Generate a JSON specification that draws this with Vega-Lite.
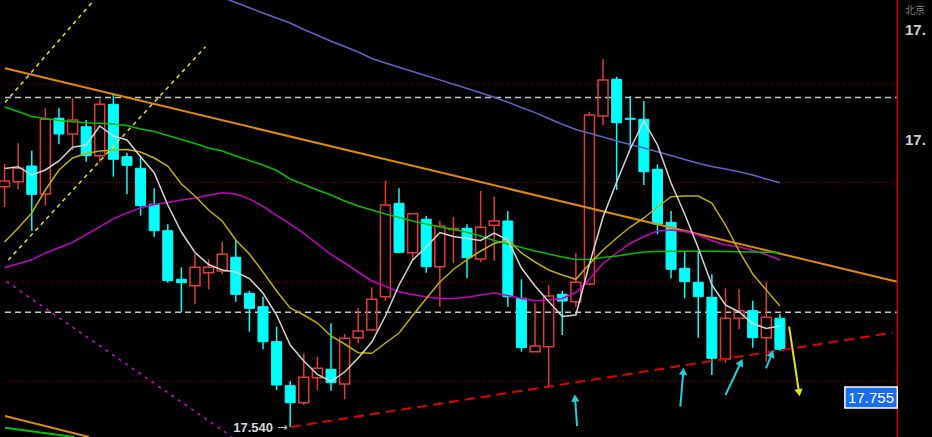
{
  "$schema": "https://vega.github.io/schema/vega-lite/v6.json",
  "width": 932,
  "height": 437,
  "autosize": "none",
  "padding": 0,
  "background": "#000000",
  "config": {"view": {"stroke": null}},
  "datasets": {
    "candles": [
      {"i":-1,"o":17.7803,"h":17.803,"l":17.76,"c":17.786,"d":"up"},
      {"i":0,"o":17.7853,"h":17.8237,"l":17.7777,"c":17.7987,"d":"up"},
      {"i":1,"o":17.801,"h":17.8163,"l":17.7363,"c":17.7727,"d":"down"},
      {"i":2,"o":17.773,"h":17.8587,"l":17.7613,"c":17.8477,"d":"up"},
      {"i":3,"o":17.8487,"h":17.8587,"l":17.8227,"c":17.833,"d":"down"},
      {"i":4,"o":17.833,"h":17.8687,"l":17.817,"c":17.847,"d":"up"},
      {"i":5,"o":17.8403,"h":17.847,"l":17.8053,"c":17.8113,"d":"down"},
      {"i":6,"o":17.8113,"h":17.8677,"l":17.8053,"c":17.8627,"d":"up"},
      {"i":7,"o":17.8627,"h":17.872,"l":17.7903,"c":17.8077,"d":"down"},
      {"i":8,"o":17.8103,"h":17.8143,"l":17.7727,"c":17.8017,"d":"down"},
      {"i":9,"o":17.7987,"h":17.811,"l":17.7513,"c":17.7613,"d":"down"},
      {"i":10,"o":17.7627,"h":17.7787,"l":17.7303,"c":17.7363,"d":"down"},
      {"i":11,"o":17.7363,"h":17.7427,"l":17.6843,"c":17.6863,"d":"down"},
      {"i":12,"o":17.6877,"h":17.6997,"l":17.6547,"c":17.6843,"d":"down"},
      {"i":13,"o":17.6813,"h":17.7127,"l":17.6627,"c":17.6997,"d":"up"},
      {"i":14,"o":17.6943,"h":17.7077,"l":17.6777,"c":17.6997,"d":"up"},
      {"i":15,"o":17.696,"h":17.7253,"l":17.6927,"c":17.7127,"d":"up"},
      {"i":16,"o":17.7097,"h":17.727,"l":17.6653,"c":17.6727,"d":"down"},
      {"i":17,"o":17.6737,"h":17.6763,"l":17.6353,"c":17.6587,"d":"down"},
      {"i":18,"o":17.6603,"h":17.6703,"l":17.6177,"c":17.6253,"d":"down"},
      {"i":19,"o":17.6253,"h":17.6403,"l":17.577,"c":17.582,"d":"down"},
      {"i":20,"o":17.5813,"h":17.586,"l":17.54,"c":17.5643,"d":"down"},
      {"i":21,"o":17.5643,"h":17.6137,"l":17.562,"c":17.5897,"d":"up"},
      {"i":22,"o":17.5893,"h":17.6103,"l":17.577,"c":17.5987,"d":"up"},
      {"i":23,"o":17.5977,"h":17.6437,"l":17.5763,"c":17.5843,"d":"down"},
      {"i":24,"o":17.583,"h":17.633,"l":17.5677,"c":17.6287,"d":"up"},
      {"i":25,"o":17.6293,"h":17.6587,"l":17.6237,"c":17.636,"d":"up"},
      {"i":26,"o":17.637,"h":17.6797,"l":17.6363,"c":17.6677,"d":"up"},
      {"i":27,"o":17.6703,"h":17.7863,"l":17.6663,"c":17.762,"d":"up"},
      {"i":28,"o":17.7637,"h":17.7787,"l":17.7137,"c":17.7147,"d":"down"},
      {"i":29,"o":17.7143,"h":17.7533,"l":17.707,"c":17.7533,"d":"up"},
      {"i":30,"o":17.7477,"h":17.7513,"l":17.6943,"c":17.7003,"d":"down"},
      {"i":31,"o":17.7003,"h":17.7463,"l":17.6603,"c":17.741,"d":"up"},
      {"i":32,"o":17.7375,"h":17.7503,"l":17.7037,"c":17.7385,"d":"up"},
      {"i":33,"o":17.7387,"h":17.7427,"l":17.6887,"c":17.7093,"d":"down"},
      {"i":34,"o":17.708,"h":17.7763,"l":17.7047,"c":17.7397,"d":"up"},
      {"i":35,"o":17.7417,"h":17.7703,"l":17.7063,"c":17.746,"d":"up"},
      {"i":36,"o":17.746,"h":17.756,"l":17.6603,"c":17.6703,"d":"down"},
      {"i":37,"o":17.6687,"h":17.6877,"l":17.6153,"c":17.6193,"d":"down"},
      {"i":38,"o":17.6153,"h":17.6637,"l":17.6153,"c":17.621,"d":"up"},
      {"i":39,"o":17.6203,"h":17.682,"l":17.5793,"c":17.671,"d":"up"},
      {"i":40,"o":17.6727,"h":17.676,"l":17.632,"c":17.666,"d":"down"},
      {"i":41,"o":17.6653,"h":17.7137,"l":17.6603,"c":17.6847,"d":"up"},
      {"i":42,"o":17.683,"h":17.8553,"l":17.682,"c":17.852,"d":"up"},
      {"i":43,"o":17.851,"h":17.9077,"l":17.842,"c":17.887,"d":"up"},
      {"i":44,"o":17.8877,"h":17.8903,"l":17.777,"c":17.8443,"d":"down"},
      {"i":45,"o":17.8487,"h":17.871,"l":17.8187,"c":17.8477,"d":"down"},
      {"i":46,"o":17.8477,"h":17.866,"l":17.782,"c":17.7953,"d":"down"},
      {"i":47,"o":17.7977,"h":17.8027,"l":17.7327,"c":17.743,"d":"down"},
      {"i":48,"o":17.7447,"h":17.756,"l":17.6887,"c":17.6977,"d":"down"},
      {"i":49,"o":17.6987,"h":17.7153,"l":17.6687,"c":17.6853,"d":"down"},
      {"i":50,"o":17.6847,"h":17.716,"l":17.6293,"c":17.6703,"d":"down"},
      {"i":51,"o":17.6697,"h":17.6927,"l":17.592,"c":17.6087,"d":"down"},
      {"i":52,"o":17.608,"h":17.6787,"l":17.6043,"c":17.6487,"d":"up"},
      {"i":53,"o":17.6487,"h":17.6777,"l":17.6377,"c":17.6563,"d":"up"},
      {"i":54,"o":17.6563,"h":17.6663,"l":17.6193,"c":17.6293,"d":"down"},
      {"i":55,"o":17.6293,"h":17.6847,"l":17.6053,"c":17.6497,"d":"up"},
      {"i":56,"o":17.6487,"h":17.653,"l":17.6163,"c":17.6177,"d":"down"}
    ],
    "ma": [
      {"i":-1,"ma5":17.7985,"ma10":17.725,"ma20":17.86,"ma30":17.6995,"ma60":null},
      {"i":0,"ma5":17.8003,"ma10":17.739,"ma20":17.8555,"ma30":17.7033,"ma60":null},
      {"i":1,"ma5":17.792,"ma10":17.754,"ma20":17.8505,"ma30":17.7072,"ma60":null},
      {"i":2,"ma5":17.797,"ma10":17.777,"ma20":17.8485,"ma30":17.7139,"ma60":null},
      {"i":3,"ma5":17.806,"ma10":17.797,"ma20":17.8465,"ma30":17.7192,"ma60":null},
      {"i":4,"ma5":17.8197,"ma10":17.809,"ma20":17.8453,"ma30":17.7246,"ma60":null},
      {"i":5,"ma5":17.822,"ma10":17.8135,"ma20":17.8443,"ma30":17.7324,"ma60":null},
      {"i":6,"ma5":17.841,"ma10":17.816,"ma20":17.8437,"ma30":17.7401,"ma60":null},
      {"i":7,"ma5":17.831,"ma10":17.817,"ma20":17.843,"ma30":17.7482,"ma60":null},
      {"i":8,"ma5":17.827,"ma10":17.8175,"ma20":17.8415,"ma30":17.7541,"ma60":null},
      {"i":9,"ma5":17.8103,"ma10":17.815,"ma20":17.838,"ma30":17.759,"ma60":null},
      {"i":10,"ma5":17.7943,"ma10":17.809,"ma20":17.8355,"ma30":17.7624,"ma60":null},
      {"i":11,"ma5":17.762,"ma10":17.801,"ma20":17.8315,"ma30":17.7645,"ma60":null},
      {"i":12,"ma5":17.735,"ma10":17.783,"ma20":17.8275,"ma30":17.767,"ma60":null},
      {"i":13,"ma5":17.7145,"ma10":17.771,"ma20":17.8235,"ma30":17.7691,"ma60":17.98},
      {"i":14,"ma5":17.7025,"ma10":17.757,"ma20":17.819,"ma30":17.7718,"ma60":17.9749},
      {"i":15,"ma5":17.697,"ma10":17.746,"ma20":17.816,"ma30":17.7742,"ma60":17.9697},
      {"i":16,"ma5":17.695,"ma10":17.727,"ma20":17.811,"ma30":17.7729,"ma60":17.9645},
      {"i":17,"ma5":17.6885,"ma10":17.713,"ma20":17.8065,"ma30":17.7681,"ma60":17.9593},
      {"i":18,"ma5":17.674,"ma10":17.695,"ma20":17.802,"ma30":17.7607,"ma60":17.954},
      {"i":19,"ma5":17.652,"ma10":17.676,"ma20":17.7965,"ma30":17.7516,"ma60":17.949},
      {"i":20,"ma5":17.622,"ma10":17.659,"ma20":17.788,"ma30":17.7428,"ma60":17.944},
      {"i":21,"ma5":17.606,"ma10":17.652,"ma20":17.7825,"ma30":17.7337,"ma60":17.9375},
      {"i":22,"ma5":17.5925,"ma10":17.644,"ma20":17.777,"ma30":17.723,"ma60":17.9318},
      {"i":23,"ma5":17.5855,"ma10":17.631,"ma20":17.772,"ma30":17.7125,"ma60":17.9257},
      {"i":24,"ma5":17.595,"ma10":17.623,"ma20":17.766,"ma30":17.704,"ma60":17.9205},
      {"i":25,"ma5":17.609,"ma10":17.6143,"ma20":17.761,"ma30":17.695,"ma60":17.915},
      {"i":26,"ma5":17.625,"ma10":17.6137,"ma20":17.757,"ma30":17.686,"ma60":17.9085},
      {"i":27,"ma5":17.651,"ma10":17.624,"ma20":17.753,"ma30":17.6806,"ma60":17.904},
      {"i":28,"ma5":17.682,"ma10":17.634,"ma20":17.7495,"ma30":17.6753,"ma60":17.8997},
      {"i":29,"ma5":17.707,"ma10":17.6515,"ma20":17.746,"ma30":17.6726,"ma60":17.8955},
      {"i":30,"ma5":17.72,"ma10":17.6685,"ma20":17.743,"ma30":17.6699,"ma60":17.8912},
      {"i":31,"ma5":17.7345,"ma10":17.685,"ma20":17.74,"ma30":17.6684,"ma60":17.8871},
      {"i":32,"ma5":17.7305,"ma10":17.6975,"ma20":17.7375,"ma30":17.6684,"ma60":17.8827},
      {"i":33,"ma5":17.7285,"ma10":17.7073,"ma20":17.7347,"ma30":17.6698,"ma60":17.8785},
      {"i":34,"ma5":17.7265,"ma10":17.716,"ma20":17.731,"ma30":17.672,"ma60":17.8742},
      {"i":35,"ma5":17.734,"ma10":17.7235,"ma20":17.7265,"ma30":17.674,"ma60":17.8698},
      {"i":36,"ma5":17.727,"ma10":17.727,"ma20":17.723,"ma30":17.6715,"ma60":17.8648},
      {"i":37,"ma5":17.699,"ma10":17.714,"ma20":17.7195,"ma30":17.6685,"ma60":17.8595},
      {"i":38,"ma5":17.681,"ma10":17.705,"ma20":17.716,"ma30":17.6662,"ma60":17.8544},
      {"i":39,"ma5":17.6655,"ma10":17.697,"ma20":17.713,"ma30":17.667,"ma60":17.8485},
      {"i":40,"ma5":17.6505,"ma10":17.692,"ma20":17.71,"ma30":17.6685,"ma60":17.8427},
      {"i":41,"ma5":17.652,"ma10":17.6877,"ma20":17.7075,"ma30":17.6745,"ma60":17.8375},
      {"i":42,"ma5":17.703,"ma10":17.703,"ma20":17.7075,"ma30":17.688,"ma60":17.8337},
      {"i":43,"ma5":17.75,"ma10":17.717,"ma20":17.7095,"ma30":17.7035,"ma60":17.83},
      {"i":44,"ma5":17.785,"ma10":17.729,"ma20":17.711,"ma30":17.714,"ma60":17.826},
      {"i":45,"ma5":17.818,"ma10":17.74,"ma20":17.713,"ma30":17.7235,"ma60":17.8225},
      {"i":46,"ma5":17.846,"ma10":17.749,"ma20":17.715,"ma30":17.7305,"ma60":17.819},
      {"i":47,"ma5":17.822,"ma10":17.76,"ma20":17.7155,"ma30":17.736,"ma60":17.8153},
      {"i":48,"ma5":17.784,"ma10":17.7703,"ma20":17.7157,"ma30":17.737,"ma60":17.8115},
      {"i":49,"ma5":17.753,"ma10":17.771,"ma20":17.7157,"ma30":17.7355,"ma60":17.8075},
      {"i":50,"ma5":17.719,"ma10":17.771,"ma20":17.7158,"ma30":17.732,"ma60":17.8037},
      {"i":51,"ma5":17.682,"ma10":17.764,"ma20":17.7157,"ma30":17.7265,"ma60":17.8005},
      {"i":52,"ma5":17.662,"ma10":17.742,"ma20":17.7155,"ma30":17.722,"ma60":17.798},
      {"i":53,"ma5":17.655,"ma10":17.716,"ma20":17.7152,"ma30":17.72,"ma60":17.7952},
      {"i":54,"ma5":17.6435,"ma10":17.693,"ma20":17.715,"ma30":17.7165,"ma60":17.792},
      {"i":55,"ma5":17.6385,"ma10":17.677,"ma20":17.7147,"ma30":17.7125,"ma60":17.788},
      {"i":56,"ma5":17.641,"ma10":17.661,"ma20":17.7145,"ma30":17.707,"ma60":17.7843}
    ],
    "hlines": [
      {"kind":"grid","p":17.883,"i1":-0.967,"i2":64.63},
      {"kind":"grid","p":17.7845,"i1":-0.967,"i2":64.63},
      {"kind":"grid","p":17.685,"i1":-0.967,"i2":64.63},
      {"kind":"grid","p":17.586,"i1":-0.967,"i2":64.63},
      {"kind":"level","p":17.8695,"i1":-0.967,"i2":64.63},
      {"kind":"level","p":17.6547,"i1":-0.967,"i2":64.63}
    ],
    "trend": [
      {"id":"orange1","style":"orange","i":-0.967,"p":17.8987},
      {"id":"orange1","style":"orange","i":64.63,"p":17.6853},
      {"id":"orange2","style":"orange","i":-0.967,"p":17.551},
      {"id":"orange2","style":"orange","i":5.214,"p":17.53},
      {"id":"green2","style":"green","i":-0.967,"p":17.5393},
      {"id":"green2","style":"green","i":4.124,"p":17.53},
      {"id":"support","style":"red","i":20.05,"p":17.54},
      {"id":"support","style":"red","i":64.27,"p":17.6343},
      {"id":"chanA","style":"yellow","i":-0.967,"p":17.8644},
      {"id":"chanA","style":"yellow","i":5.578,"p":17.967},
      {"id":"chanB","style":"yellow","i":-0.727,"p":17.707},
      {"id":"chanB","style":"yellow","i":13.775,"p":17.9203},
      {"id":"mag","style":"magenta","i":-0.844,"p":17.6853},
      {"id":"mag","style":"magenta","i":15.73,"p":17.53}
    ],
    "arrows": [
      {"id":"c1","col":"cyan","i":41.09,"p":17.541},
      {"id":"c1","col":"cyan","i":40.94,"p":17.569},
      {"id":"c2","col":"cyan","i":48.68,"p":17.5603},
      {"id":"c2","col":"cyan","i":48.9,"p":17.5957},
      {"id":"c3","col":"cyan","i":52.0,"p":17.572},
      {"id":"c3","col":"cyan","i":53.14,"p":17.6047},
      {"id":"c4","col":"cyan","i":54.98,"p":17.5987},
      {"id":"c4","col":"cyan","i":55.41,"p":17.6133},
      {"id":"y1","col":"yellow","i":56.68,"p":17.6403},
      {"id":"y1","col":"yellow","i":57.41,"p":17.5743}
    ],
    "heads": [
      {"id":"c1","col":"cyan","i":40.94,"p":17.569,"deg":356},
      {"id":"c2","col":"cyan","i":48.9,"p":17.5957,"deg":5},
      {"id":"c3","col":"cyan","i":53.14,"p":17.6047,"deg":26},
      {"id":"c4","col":"cyan","i":55.41,"p":17.6133,"deg":22},
      {"id":"y1","col":"yellow","i":57.41,"p":17.5743,"deg":171}
    ]
  },
  "layer": [
    {
      "data": {"name": "hlines"},
      "transform": [{"filter": "datum.kind == 'grid'"}],
      "mark": {"type": "rule", "color": "#9a0000", "strokeWidth": 1, "strokeDash": [1, 2]},
      "encoding": {
        "x": {"field": "i1", "type": "quantitative", "scale": {"domain": [-0.967, 66.815], "nice": false, "zero": false}, "axis": null},
        "x2": {"field": "i2"},
        "y": {"field": "p", "type": "quantitative", "scale": {"domain": [17.53, 17.967], "nice": false, "zero": false}, "axis": null}
      }
    },
    {
      "data": {"name": "hlines"},
      "transform": [{"filter": "datum.kind == 'level'"}],
      "mark": {"type": "rule", "color": "#c8c8c8", "strokeWidth": 1.5, "strokeDash": [6, 4]},
      "encoding": {
        "x": {"field": "i1", "type": "quantitative", "scale": {"domain": [-0.967, 66.815], "nice": false, "zero": false}, "axis": null},
        "x2": {"field": "i2"},
        "y": {"field": "p", "type": "quantitative", "scale": {"domain": [17.53, 17.967], "nice": false, "zero": false}, "axis": null}
      }
    },
    {
      "data": {"name": "candles"},
      "transform": [{"filter": "datum.d == 'down'"}],
      "mark": {"type": "rule", "color": "#00ffff", "strokeWidth": 1.5},
      "encoding": {
        "x": {"field": "i", "type": "quantitative", "scale": {"domain": [-0.967, 66.815], "nice": false, "zero": false}, "axis": null},
        "y": {"field": "l", "type": "quantitative", "scale": {"domain": [17.53, 17.967], "nice": false, "zero": false}, "axis": null},
        "y2": {"field": "h"}
      }
    },
    {
      "data": {"name": "candles"},
      "transform": [{"filter": "datum.d == 'up'"}],
      "mark": {"type": "rule", "color": "#e03a3a", "strokeWidth": 1.5},
      "encoding": {
        "x": {"field": "i", "type": "quantitative", "scale": {"domain": [-0.967, 66.815], "nice": false, "zero": false}, "axis": null},
        "y": {"field": "c", "type": "quantitative", "scale": {"domain": [17.53, 17.967], "nice": false, "zero": false}, "axis": null},
        "y2": {"field": "h"}
      }
    },
    {
      "data": {"name": "candles"},
      "transform": [{"filter": "datum.d == 'up'"}],
      "mark": {"type": "rule", "color": "#e03a3a", "strokeWidth": 1.5},
      "encoding": {
        "x": {"field": "i", "type": "quantitative", "scale": {"domain": [-0.967, 66.815], "nice": false, "zero": false}, "axis": null},
        "y": {"field": "l", "type": "quantitative", "scale": {"domain": [17.53, 17.967], "nice": false, "zero": false}, "axis": null},
        "y2": {"field": "o"}
      }
    },
    {
      "data": {"name": "candles"},
      "transform": [{"filter": "datum.d == 'down'"}],
      "mark": {"type": "bar", "orient": "vertical", "width": 10, "fill": "#00ffff", "stroke": "#00ffff", "strokeWidth": 1},
      "encoding": {
        "x": {"field": "i", "type": "quantitative", "scale": {"domain": [-0.967, 66.815], "nice": false, "zero": false}, "axis": null},
        "y": {"field": "o", "type": "quantitative", "scale": {"domain": [17.53, 17.967], "nice": false, "zero": false}, "axis": null},
        "y2": {"field": "c"}
      }
    },
    {
      "data": {"name": "candles"},
      "transform": [{"filter": "datum.d == 'up'"}],
      "mark": {"type": "bar", "orient": "vertical", "width": 10, "fill": "#000000", "fillOpacity": 0, "stroke": "#e03a3a", "strokeWidth": 1.5},
      "encoding": {
        "x": {"field": "i", "type": "quantitative", "scale": {"domain": [-0.967, 66.815], "nice": false, "zero": false}, "axis": null},
        "y": {"field": "o", "type": "quantitative", "scale": {"domain": [17.53, 17.967], "nice": false, "zero": false}, "axis": null},
        "y2": {"field": "c"}
      }
    },
    {
      "data": {"name": "trend"},
      "transform": [{"filter": "datum.style == 'orange' || datum.style == 'green'"}],
      "mark": {"type": "line", "strokeWidth": 2, "clip": true},
      "encoding": {
        "x": {"field": "i", "type": "quantitative", "scale": {"domain": [-0.967, 66.815], "nice": false, "zero": false}, "axis": null},
        "y": {"field": "p", "type": "quantitative", "scale": {"domain": [17.53, 17.967], "nice": false, "zero": false}, "axis": null},
        "detail": {"field": "id"},
        "color": {"field": "style", "type": "nominal", "scale": {"domain": ["orange", "green", "red", "yellow", "magenta", "cyan"], "range": ["#e08a00", "#00c000", "#e00000", "#e6e600", "#e000e0", "#20d0d8"]}, "legend": null}
      }
    },
    {
      "data": {"name": "trend"},
      "transform": [{"filter": "datum.style == 'red'"}],
      "mark": {"type": "line", "strokeWidth": 2, "strokeDash": [10, 6], "clip": true},
      "encoding": {
        "x": {"field": "i", "type": "quantitative", "scale": {"domain": [-0.967, 66.815], "nice": false, "zero": false}, "axis": null},
        "y": {"field": "p", "type": "quantitative", "scale": {"domain": [17.53, 17.967], "nice": false, "zero": false}, "axis": null},
        "detail": {"field": "id"},
        "color": {"field": "style", "type": "nominal", "scale": {"domain": ["orange", "green", "red", "yellow", "magenta", "cyan"], "range": ["#e08a00", "#00c000", "#e00000", "#e6e600", "#e000e0", "#20d0d8"]}, "legend": null}
      }
    },
    {
      "data": {"name": "trend"},
      "transform": [{"filter": "datum.style == 'yellow'"}],
      "mark": {"type": "line", "strokeWidth": 1.5, "strokeDash": [4, 4], "clip": true},
      "encoding": {
        "x": {"field": "i", "type": "quantitative", "scale": {"domain": [-0.967, 66.815], "nice": false, "zero": false}, "axis": null},
        "y": {"field": "p", "type": "quantitative", "scale": {"domain": [17.53, 17.967], "nice": false, "zero": false}, "axis": null},
        "detail": {"field": "id"},
        "color": {"field": "style", "type": "nominal", "scale": {"domain": ["orange", "green", "red", "yellow", "magenta", "cyan"], "range": ["#e08a00", "#00c000", "#e00000", "#e6e600", "#e000e0", "#20d0d8"]}, "legend": null}
      }
    },
    {
      "data": {"name": "trend"},
      "transform": [{"filter": "datum.style == 'magenta'"}],
      "mark": {"type": "line", "strokeWidth": 1.5, "strokeDash": [3, 5], "clip": true},
      "encoding": {
        "x": {"field": "i", "type": "quantitative", "scale": {"domain": [-0.967, 66.815], "nice": false, "zero": false}, "axis": null},
        "y": {"field": "p", "type": "quantitative", "scale": {"domain": [17.53, 17.967], "nice": false, "zero": false}, "axis": null},
        "detail": {"field": "id"},
        "color": {"field": "style", "type": "nominal", "scale": {"domain": ["orange", "green", "red", "yellow", "magenta", "cyan"], "range": ["#e08a00", "#00c000", "#e00000", "#e6e600", "#e000e0", "#20d0d8"]}, "legend": null}
      }
    },
    {
      "data": {"name": "ma"},
      "mark": {"type": "line", "color": "#6262c8", "strokeWidth": 1.5, "clip": true},
      "encoding": {
        "x": {"field": "i", "type": "quantitative", "scale": {"domain": [-0.967, 66.815], "nice": false, "zero": false}, "axis": null},
        "y": {"field": "ma60", "type": "quantitative", "scale": {"domain": [17.53, 17.967], "nice": false, "zero": false}, "axis": null}
      }
    },
    {
      "data": {"name": "ma"},
      "mark": {"type": "line", "color": "#c800c8", "strokeWidth": 1.5, "clip": true},
      "encoding": {
        "x": {"field": "i", "type": "quantitative", "scale": {"domain": [-0.967, 66.815], "nice": false, "zero": false}, "axis": null},
        "y": {"field": "ma30", "type": "quantitative", "scale": {"domain": [17.53, 17.967], "nice": false, "zero": false}, "axis": null}
      }
    },
    {
      "data": {"name": "ma"},
      "mark": {"type": "line", "color": "#00c000", "strokeWidth": 1.5, "clip": true},
      "encoding": {
        "x": {"field": "i", "type": "quantitative", "scale": {"domain": [-0.967, 66.815], "nice": false, "zero": false}, "axis": null},
        "y": {"field": "ma20", "type": "quantitative", "scale": {"domain": [17.53, 17.967], "nice": false, "zero": false}, "axis": null}
      }
    },
    {
      "data": {"name": "ma"},
      "mark": {"type": "line", "color": "#bdb000", "strokeWidth": 1.5, "clip": true},
      "encoding": {
        "x": {"field": "i", "type": "quantitative", "scale": {"domain": [-0.967, 66.815], "nice": false, "zero": false}, "axis": null},
        "y": {"field": "ma10", "type": "quantitative", "scale": {"domain": [17.53, 17.967], "nice": false, "zero": false}, "axis": null}
      }
    },
    {
      "data": {"name": "ma"},
      "mark": {"type": "line", "color": "#d4d4d4", "strokeWidth": 1.5, "clip": true},
      "encoding": {
        "x": {"field": "i", "type": "quantitative", "scale": {"domain": [-0.967, 66.815], "nice": false, "zero": false}, "axis": null},
        "y": {"field": "ma5", "type": "quantitative", "scale": {"domain": [17.53, 17.967], "nice": false, "zero": false}, "axis": null}
      }
    },
    {
      "data": {"name": "arrows"},
      "mark": {"type": "line", "strokeWidth": 2},
      "encoding": {
        "x": {"field": "i", "type": "quantitative", "scale": {"domain": [-0.967, 66.815], "nice": false, "zero": false}, "axis": null},
        "y": {"field": "p", "type": "quantitative", "scale": {"domain": [17.53, 17.967], "nice": false, "zero": false}, "axis": null},
        "detail": {"field": "id"},
        "color": {"field": "col", "type": "nominal", "scale": {"domain": ["cyan", "yellow"], "range": ["#20d0d8", "#f0f000"]}, "legend": null}
      }
    },
    {
      "data": {"name": "heads"},
      "mark": {"type": "point", "shape": "triangle-up", "filled": true, "size": 70, "opacity": 1},
      "encoding": {
        "x": {"field": "i", "type": "quantitative", "scale": {"domain": [-0.967, 66.815], "nice": false, "zero": false}, "axis": null},
        "y": {"field": "p", "type": "quantitative", "scale": {"domain": [17.53, 17.967], "nice": false, "zero": false}, "axis": null},
        "angle": {"field": "deg", "type": "quantitative", "scale": null},
        "color": {"field": "col", "type": "nominal", "scale": {"domain": ["cyan", "yellow"], "range": ["#20d0d8", "#f0f000"]}, "legend": null}
      }
    },
    {
      "data": {"values": [{"i": 64.63}]},
      "mark": {"type": "rule", "color": "#c80000", "strokeWidth": 1.5},
      "encoding": {
        "x": {"field": "i", "type": "quantitative", "scale": {"domain": [-0.967, 66.815], "nice": false, "zero": false}, "axis": null}
      }
    },
    {
      "data": {"values": [{"i1": 60.78, "i2": 64.63, "p1": 17.559, "p2": 17.58}]},
      "mark": {"type": "rect", "fill": "#1a6cf0", "stroke": "#ffffff", "strokeWidth": 1.5},
      "encoding": {
        "x": {"field": "i1", "type": "quantitative", "scale": {"domain": [-0.967, 66.815], "nice": false, "zero": false}, "axis": null},
        "x2": {"field": "i2"},
        "y": {"field": "p1", "type": "quantitative", "scale": {"domain": [17.53, 17.967], "nice": false, "zero": false}, "axis": null},
        "y2": {"field": "p2"}
      }
    },
    {
      "data": {"values": [{"i": 62.7, "p": 17.5693, "t": "17.755"}]},
      "mark": {"type": "text", "color": "#ffffff", "font": "Liberation Sans", "fontSize": 15, "align": "center", "baseline": "middle"},
      "encoding": {
        "x": {"field": "i", "type": "quantitative", "scale": {"domain": [-0.967, 66.815], "nice": false, "zero": false}, "axis": null},
        "y": {"field": "p", "type": "quantitative", "scale": {"domain": [17.53, 17.967], "nice": false, "zero": false}, "axis": null},
        "text": {"field": "t"}
      }
    },
    {
      "data": {"values": [{"i": 18.74, "p": 17.5395, "t": "17.540"}]},
      "mark": {"type": "text", "color": "#d8d8d8", "font": "Liberation Sans", "fontWeight": "bold", "fontSize": 13, "align": "right", "baseline": "middle"},
      "encoding": {
        "x": {"field": "i", "type": "quantitative", "scale": {"domain": [-0.967, 66.815], "nice": false, "zero": false}, "axis": null},
        "y": {"field": "p", "type": "quantitative", "scale": {"domain": [17.53, 17.967], "nice": false, "zero": false}, "axis": null},
        "text": {"field": "t"}
      }
    },
    {
      "data": {"values": [{"i": 19.43, "p": 17.5398, "t": "→"}]},
      "mark": {"type": "text", "color": "#c8c8c8", "font": "DejaVu Sans", "fontSize": 12, "align": "center", "baseline": "middle"},
      "encoding": {
        "x": {"field": "i", "type": "quantitative", "scale": {"domain": [-0.967, 66.815], "nice": false, "zero": false}, "axis": null},
        "y": {"field": "p", "type": "quantitative", "scale": {"domain": [17.53, 17.967], "nice": false, "zero": false}, "axis": null},
        "text": {"field": "t"}
      }
    },
    {
      "data": {"values": [{"i": 65.2, "p": 17.937, "t": "17."}, {"i": 65.2, "p": 17.827, "t": "17."}]},
      "mark": {"type": "text", "color": "#d0d0d0", "font": "Liberation Sans", "fontWeight": "bold", "fontSize": 15, "align": "left", "baseline": "middle"},
      "encoding": {
        "x": {"field": "i", "type": "quantitative", "scale": {"domain": [-0.967, 66.815], "nice": false, "zero": false}, "axis": null},
        "y": {"field": "p", "type": "quantitative", "scale": {"domain": [17.53, 17.967], "nice": false, "zero": false}, "axis": null},
        "text": {"field": "t"}
      }
    },
    {
      "data": {"values": [{"i": 65.2, "p": 17.956, "t": "北京"}]},
      "mark": {"type": "text", "color": "#808080", "font": "Noto Sans CJK SC", "fontSize": 10, "align": "left", "baseline": "middle"},
      "encoding": {
        "x": {"field": "i", "type": "quantitative", "scale": {"domain": [-0.967, 66.815], "nice": false, "zero": false}, "axis": null},
        "y": {"field": "p", "type": "quantitative", "scale": {"domain": [17.53, 17.967], "nice": false, "zero": false}, "axis": null},
        "text": {"field": "t"}
      }
    }
  ]
}
